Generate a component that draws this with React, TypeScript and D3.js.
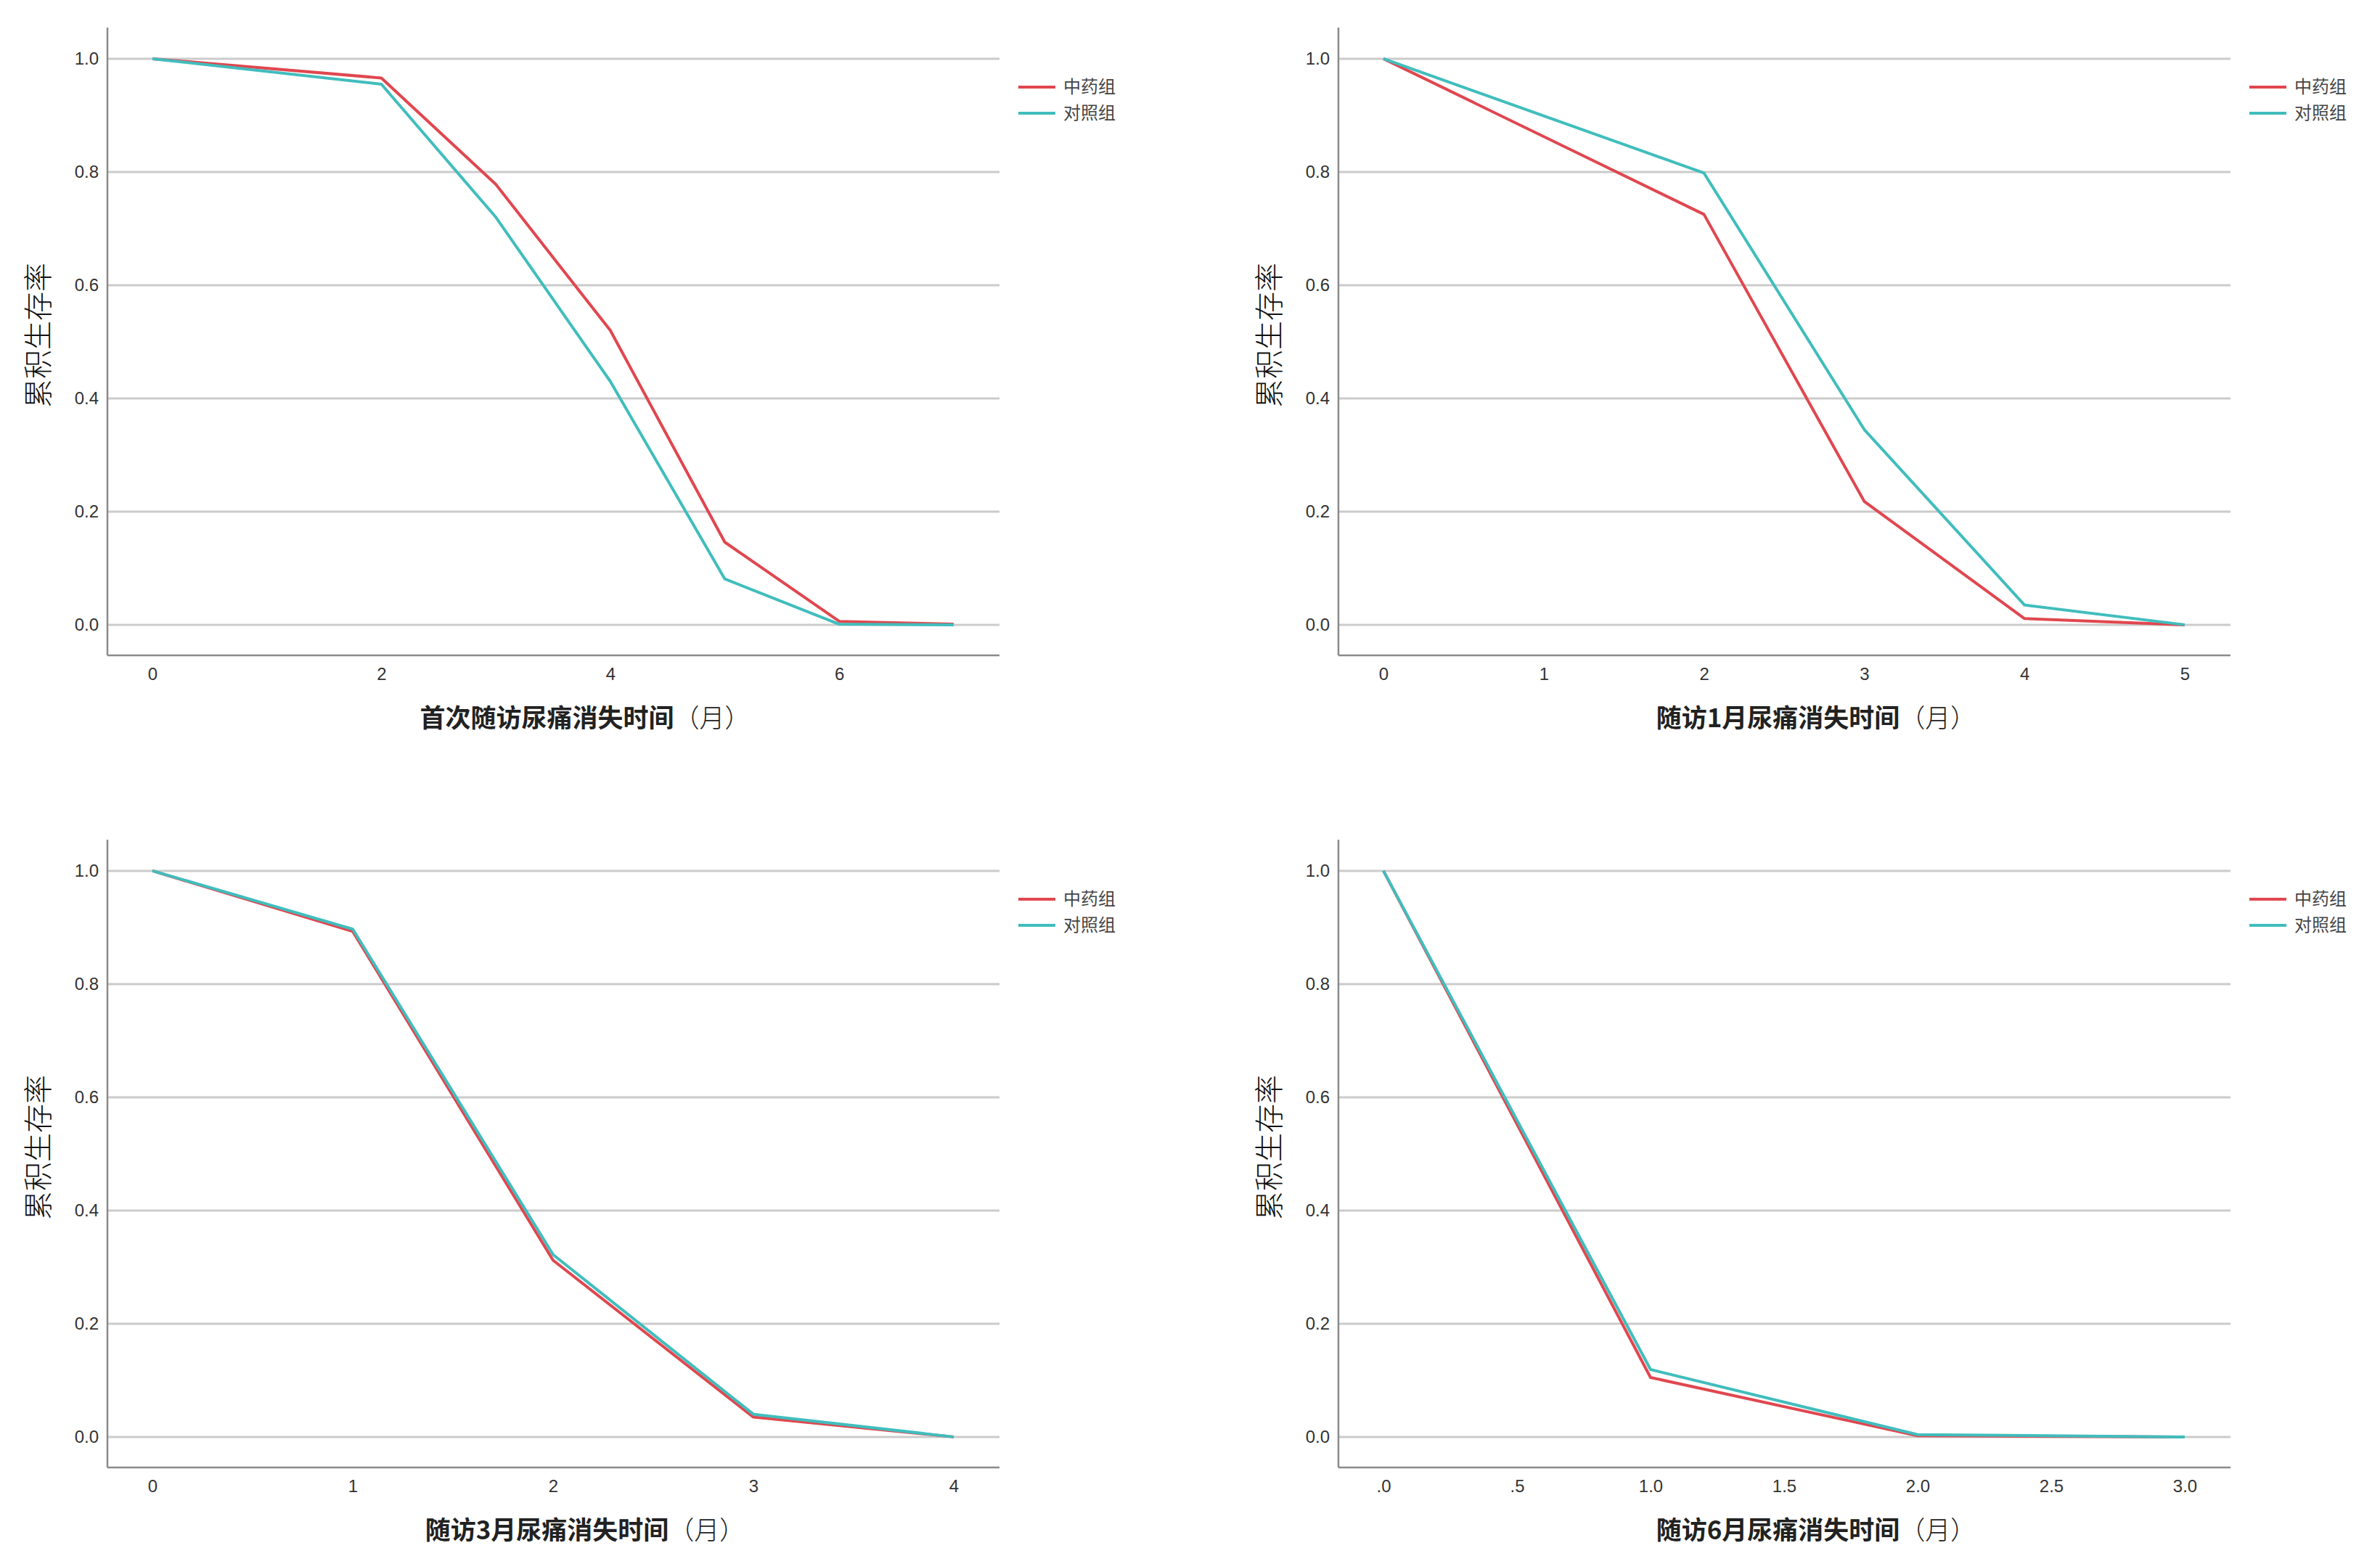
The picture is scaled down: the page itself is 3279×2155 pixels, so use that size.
import * as d3 from "d3";
import React, { useEffect, useRef } from "react";

const groups = ["中药组", "对照组"];
const groupColors = ["#e0474f", "#41bdbd"];

const titles = [
  ["首次随访尿痛消失时间", "（月）"],
  ["随访1月尿痛消失时间", "（月）"],
  ["随访3月尿痛消失时间", "（月）"],
  ["随访6月尿痛消失时间", "（月）"],
];

const yTitle = "累积生存率";
const yTicks = [0, 0.2, 0.4, 0.6, 0.8, 1.0];

const times1 = [0, 2, 3, 4, 5, 6, 7];
const herb1 = [1, 0.966, 0.778, 0.52, 0.146, 0.006, 0.001];
const ctrl1 = [1, 0.955, 0.72, 0.43, 0.081, 0.001, 0];
const xTicks1 = [0, 2, 4, 6];

const times2 = [0, 2, 3, 4, 5];
const herb2 = [1, 0.725, 0.218, 0.011, 0];
const ctrl2 = [1, 0.798, 0.345, 0.035, 0];
const xTicks2 = [0, 1, 2, 3, 4, 5];

const times3 = [0, 1, 2, 3, 4];
const herb3 = [1, 0.893, 0.312, 0.035, 0];
const ctrl3 = [1, 0.897, 0.322, 0.04, 0];
const xTicks3 = [0, 1, 2, 3, 4];

const times4 = [0, 1, 2, 3];
const herb4 = [1, 0.105, 0.002, 0];
const ctrl4 = [1, 0.119, 0.004, 0];
const xTicks4 = [0, 0.5, 1, 1.5, 2, 2.5, 3];

const panels = [
  { times: times1, series: [herb1, ctrl1], ticks: xTicks1, fmt: d3.format("d") },
  { times: times2, series: [herb2, ctrl2], ticks: xTicks2, fmt: d3.format("d") },
  { times: times3, series: [herb3, ctrl3], ticks: xTicks3, fmt: d3.format("d") },
  {
    times: times4,
    series: [herb4, ctrl4],
    ticks: xTicks4,
    fmt: (v: number) => d3.format(".1f")(v).replace(/^0\./, "."),
  },
];

const W = 3279;
const H = 2155;
const offsets = [
  [0, 0],
  [1696, 0],
  [0, 1119],
  [1696, 1119],
];

export default function App() {
  const svgRef = useRef<SVGSVGElement | null>(null);

  useEffect(() => {
    document.body.style.margin = "0";
    const svg = d3.select(svgRef.current);
    svg.selectAll("*").remove();

    const left = 148;
    const right = 1377;
    const top = 38;
    const bottom = 903;

    panels.forEach((p, i) => {
      const g = svg
        .append("g")
        .attr("transform", `translate(${offsets[i][0]},${offsets[i][1]})`);

      const x = d3
        .scaleLinear()
        .domain(d3.extent(p.times) as [number, number])
        .range([left + 62, right - 63]);
      const y = d3.scaleLinear().domain([-0.054, 1.055]).range([bottom, top]);

      // gridlines
      g.selectAll(".grid")
        .data(yTicks)
        .enter()
        .append("line")
        .attr("x1", left)
        .attr("x2", right)
        .attr("y1", (d) => y(d))
        .attr("y2", (d) => y(d))
        .attr("stroke", "#cbcbcb")
        .attr("stroke-width", 3);

      // axes
      const yAxis = d3
        .axisLeft(y)
        .tickValues(yTicks)
        .tickFormat(d3.format(".1f"))
        .tickSize(0)
        .tickPadding(12);
      const yg = g.append("g").attr("transform", `translate(${left},0)`).call(yAxis);
      yg.select(".domain").remove();

      const xAxis = d3
        .axisBottom(x)
        .tickValues(p.ticks)
        .tickFormat(p.fmt as any)
        .tickSize(0)
        .tickPadding(17);
      const xg = g.append("g").attr("transform", `translate(0,${bottom})`).call(xAxis);
      xg.select(".domain").remove();

      g.selectAll(".tick text")
        .attr("font-family", "'Liberation Sans', Arial, sans-serif")
        .attr("font-size", 24)
        .attr("fill", "#333");

      g.append("line")
        .attr("x1", left)
        .attr("x2", left)
        .attr("y1", top)
        .attr("y2", bottom)
        .attr("stroke", "#8a8a8a")
        .attr("stroke-width", 2.5);
      g.append("line")
        .attr("x1", left)
        .attr("x2", right)
        .attr("y1", bottom)
        .attr("y2", bottom)
        .attr("stroke", "#8a8a8a")
        .attr("stroke-width", 2.5);

      // lines
      const line = d3
        .line<number>()
        .x((_, j) => x(p.times[j]))
        .y((d) => y(d));
      p.series.forEach((s, k) => {
        g.append("path")
          .datum(s)
          .attr("fill", "none")
          .attr("stroke", groupColors[k])
          .attr("stroke-width", 4)
          .attr("stroke-linejoin", "round")
          .attr("d", line);
      });

      // legend
      groups.forEach((name, k) => {
        const ly = 120 + k * 36;
        g.append("line")
          .attr("x1", 1403)
          .attr("x2", 1454)
          .attr("y1", ly)
          .attr("y2", ly)
          .attr("stroke", groupColors[k])
          .attr("stroke-width", 4);
        g.append("text")
          .attr("x", 1465)
          .attr("y", ly)
          .attr("dy", "0.35em")
          .attr("font-family", "'Noto Sans CJK SC', sans-serif")
          .attr("font-size", 24)
          .attr("fill", "#444")
          .text(name);
      });

      // x title
      const xt = g
        .append("text")
        .attr("x", 806)
        .attr("y", 990)
        .attr("dy", "0.35em")
        .attr("text-anchor", "middle")
        .attr("font-family", "'Noto Sans CJK SC', sans-serif")
        .attr("font-size", 35)
        .attr("fill", "#222");
      xt.append("tspan").attr("font-weight", "bold").text(titles[i][0]);
      xt.append("tspan").attr("font-weight", 300).text(titles[i][1]);

      // y title
      g.append("text")
        .attr("transform", `translate(53,462) rotate(-90)`)
        .attr("dy", "0.35em")
        .attr("text-anchor", "middle")
        .attr("font-family", "'Noto Sans CJK SC', sans-serif")
        .attr("font-size", 40)
        .attr("font-weight", 300)
        .attr("fill", "#111")
        .text(yTitle);
    });
  }, []);

  return (
    <svg
      ref={svgRef}
      width={W}
      height={H}
      style={{ display: "block", background: "#fff" }}
    />
  );
}
